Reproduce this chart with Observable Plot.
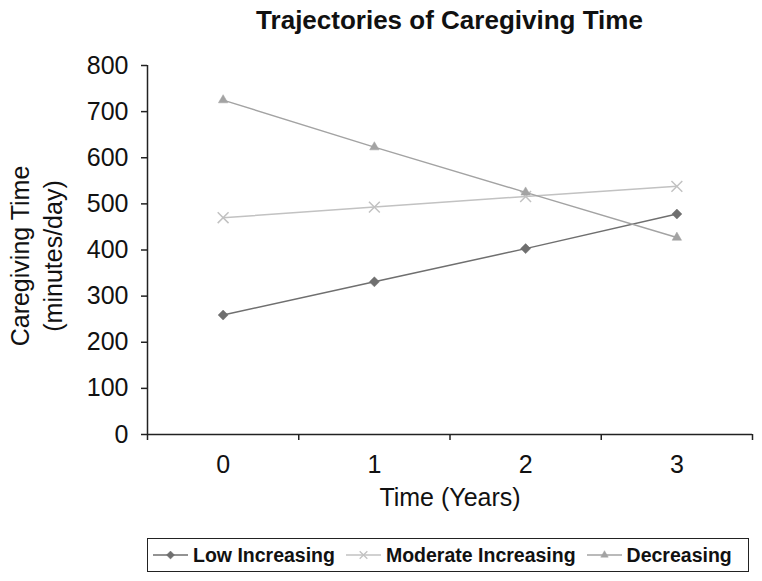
<!DOCTYPE html>
<html>
<head>
<meta charset="utf-8">
<script src="https://cdn.jsdelivr.net/npm/d3@7"></script>
<script src="https://cdn.jsdelivr.net/npm/@observablehq/plot@0.6"></script>
<style>
  html, body { margin: 0; background: #fff; font-family: "Liberation Sans", Arial, Helvetica, sans-serif; }
  #wrap { width: 762px; height: 581px; position: relative; background: #fff; }
  #title { position: absolute; left: 147px; width: 605px; top: 7px; line-height: 26px; text-align: center; font-weight: bold; font-size: 26px; color: #111; }
  #chart { position: absolute; left: 0; top: 40px; }
  #legend { position: absolute; left: 147px; top: 538px; width: 595px; height: 32px; border: 1.5px solid #222; box-sizing: content-box;
            display: flex; align-items: center; justify-content: flex-start; padding-left: 5px; gap: 11px;
            font-weight: bold; font-size: 19.5px; color: #111; }
  .item { display: flex; align-items: center; gap: 5px; white-space: nowrap; }
</style>
</head>
<body>
<div id="wrap">
  <div id="title">Trajectories of Caregiving Time</div>
  <div id="chart"></div>
  <div id="legend"></div>
</div>
<script>
const years = [0, 1, 2, 3];
const seriesNames = ["Low Increasing", "Moderate Increasing", "Decreasing"];
const lowIncreasing = [259, 331, 403, 478];
const moderateIncreasing = [470, 493, 516, 538];
const decreasing = [725, 623, 525, 427];
const yTicks = [0, 100, 200, 300, 400, 500, 600, 700, 800];

const seriesValues = [lowIncreasing, moderateIncreasing, decreasing];
const colors = ["#6f6f6f", "#c2c2c2", "#a3a3a3"];
const symbols = ["diamond2", "times", "triangle2"];

const data = [];
seriesNames.forEach((s, i) => years.forEach((yr, j) => data.push({series: s, year: yr, value: seriesValues[i][j]})));

const boundaries = [-0.5, 0.5, 1.5, 2.5, 3.5];

const marks = [];
seriesNames.forEach((s, i) => {
  const d = data.filter(r => r.series === s);
  marks.push(Plot.line(d, {x: "year", y: "value", stroke: colors[i], strokeWidth: 1.5}));
  marks.push(Plot.dot(d, {x: "year", y: "value", symbol: symbols[i], fill: i === 1 ? "none" : colors[i], stroke: colors[i], strokeWidth: i === 1 ? 1.5 : 0.5, r: i === 1 ? 5 : 4.5}));
});

try {
const chart = Plot.plot({
  width: 762,
  height: 490,
  marginLeft: 147,
  marginRight: 10,
  marginTop: 25,
  marginBottom: 96,
  style: {fontFamily: '"Liberation Sans", Arial, Helvetica, sans-serif', color: "#111", background: "transparent"},
  x: {domain: [-0.5, 3.5], axis: null},
  y: {domain: [0, 800], axis: null},
  marks: [
    Plot.axisY({ticks: yTicks, tickSize: 6, tickPadding: 13, fontSize: 25, label: null, stroke: "#222", strokeWidth: 1.5}),
    Plot.axisX({ticks: years, tickSize: 0, tickPadding: 21, fontSize: 25, label: null, tickFormat: d => String(d)}),
    Plot.axisX({ticks: boundaries, tickSize: 6, tickFormat: () => "", label: null, stroke: "#222", strokeWidth: 1.5}),
    Plot.ruleY([0], {stroke: "#222", strokeWidth: 1.5}),
    Plot.ruleX([-0.5], {stroke: "#222", strokeWidth: 1.5}),
    ...marks,
    Plot.text(["Caregiving Time\n(minutes/day)"], {frameAnchor: "left", textAnchor: "middle", rotate: -90, dx: -113, dy: 6, fontSize: 25, lineHeight: 1.32, fill: "#111"}),
    Plot.text(["Time (Years)"], {frameAnchor: "bottom", dy: 71, fontSize: 25, fill: "#111"})
  ]
});
document.getElementById("chart").appendChild(chart);
} catch (e) { document.getElementById("chart").textContent = String(e); }

const legend = d3.select("#legend");
seriesNames.forEach((s, i) => {
  const it = legend.append("div").attr("class", "item");
  const sv = it.append("svg").attr("width", 35).attr("height", 14);
  sv.append("line").attr("x1", 0).attr("x2", 35).attr("y1", 7).attr("y2", 7).attr("stroke", colors[i]).attr("stroke-width", 1.5);
  const sym = {diamond2: d3.symbolDiamond2, times: d3.symbolTimes, triangle2: d3.symbolTriangle2}[symbols[i]];
  sv.append("path").attr("d", d3.symbol(sym, 40)).attr("transform", "translate(17.5,7)")
    .attr("fill", i === 1 ? "none" : colors[i]).attr("stroke", colors[i]).attr("stroke-width", i === 1 ? 1.3 : 0.5);
  it.append("span").text(s);
});
</script>
</body>
</html>
